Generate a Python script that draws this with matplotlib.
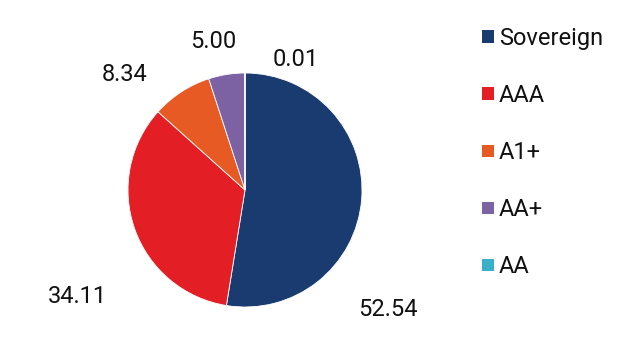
import matplotlib
matplotlib.use("Agg")
import matplotlib.pyplot as plt
from matplotlib.patches import Rectangle

plt.rcParams['font.family'] = ['Roboto', 'DejaVu Sans']

categories = ["Sovereign", "AAA", "A1+", "AA+", "AA"]
values = [52.54, 34.11, 8.34, 5.00, 0.01]
colors = ["#1a3b6f", "#e31e24", "#e85a24", "#7d62a3", "#3aafc9"]
# pixel positions (center x, baseline y) of value labels
label_pos = [(387.5, 316), (77.5, 303), (124.7, 81), (213, 48), (296, 66.5)]

W, H = 637, 360
FS = 17
fig = plt.figure(figsize=(W / 100, H / 100), dpi=100)
ax = fig.add_axes([128 / W, 1 - 307 / H, 234 / W, 234 / H])
ax.pie(values, colors=colors, startangle=90, counterclock=False,
       wedgeprops=dict(linewidth=0.6, edgecolor="white"))
ax.set_aspect("equal")
ax.set_xlim(-1, 1)
ax.set_ylim(-1, 1)

for v, (px, py) in zip(values, label_pos):
    fig.text(px / W, 1 - py / H, f"{v:.2f}", ha="center", va="baseline",
             fontsize=FS, color="#111111")

# legend
for i, (name, c) in enumerate(zip(categories, colors)):
    cy = 36.8 + 57 * i
    fig.patches.append(Rectangle((482 / W, 1 - (cy + 6.3) / H), 12.3 / W, 12.6 / H,
                                 transform=fig.transFigure, facecolor=c, edgecolor="none"))
    fig.text(499 / W, 1 - (cy + 8.4) / H, name, ha="left", va="baseline",
             fontsize=FS, color="#111111")

fig.savefig("out.png", dpi=100)
